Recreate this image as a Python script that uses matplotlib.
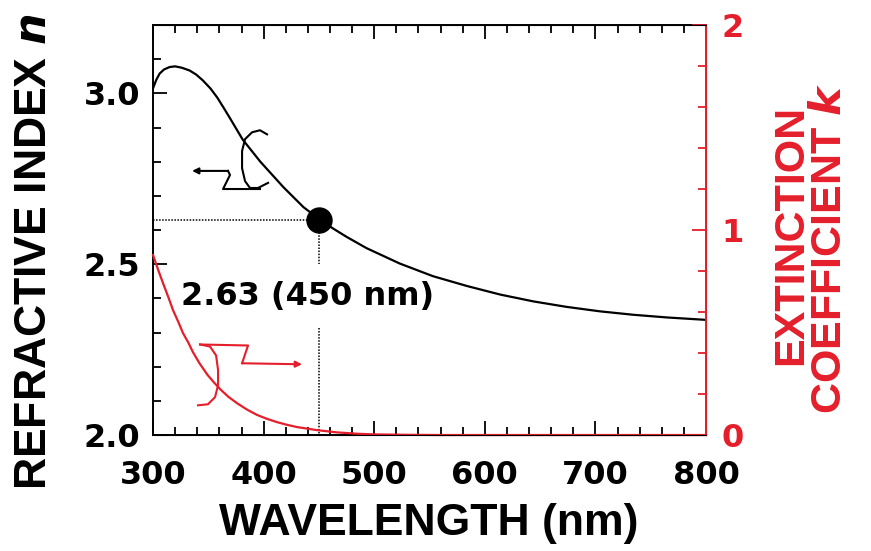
import matplotlib
matplotlib.use("Agg")
import matplotlib.pyplot as plt
import numpy as np

plt.rcParams['font.family'] = ['Liberation Sans', 'DejaVu Sans']
plt.rcParams['font.weight'] = 'bold'

# refractive index n (left axis)
wl_n = [300, 303, 306, 310, 315, 320, 326, 333, 339, 345, 352, 358, 364, 370,
        381, 397, 418, 436, 451, 463, 475, 493, 523, 553, 584, 614, 644, 674,
        704, 734, 765, 800]
n_vals = [3.015, 3.04, 3.058, 3.07, 3.077, 3.079, 3.075, 3.067, 3.055, 3.038,
          3.014, 2.988, 2.957, 2.925, 2.865, 2.80, 2.725, 2.667, 2.63, 2.604,
          2.580, 2.547, 2.502, 2.465, 2.436, 2.411, 2.391, 2.375, 2.362, 2.352,
          2.344, 2.337]

# extinction coefficient k (right axis)
wl_k = [300, 305, 309, 314, 318, 323, 327, 332, 336, 342, 349, 355, 361, 368,
        376, 385, 394, 403, 412, 421, 430, 448, 466, 485, 500, 530, 560, 800]
k_vals = [0.878, 0.80, 0.741, 0.67, 0.61, 0.55, 0.498, 0.45, 0.405, 0.35,
          0.295, 0.257, 0.222, 0.187, 0.155, 0.124, 0.098, 0.079, 0.063, 0.050,
          0.039, 0.024, 0.013, 0.006, 0.003, 0.001, 0.0, 0.0]

mark_wl = 450
mark_n = 2.63
mark_text = "2.63 (450 nm)"

# hand-drawn axis indicators (wavelength, n)
blk_arc_x = [403.1, 396.7, 389.5, 383.2, 380.5, 380.5, 383.2, 387.7, 394.9, 404.0]
blk_arc_y = [2.880, 2.892, 2.886, 2.866, 2.831, 2.781, 2.743, 2.723, 2.723, 2.738]
blk_lead_x = [396.7, 363.3, 369.6, 367.8, 335.3]
blk_lead_y = [2.720, 2.720, 2.761, 2.773, 2.773]
red_arc_x = [342.5, 351.5, 357.0, 358.8, 358.8, 356.1, 349.7, 340.7]
red_arc_y = [2.265, 2.259, 2.233, 2.190, 2.146, 2.111, 2.090, 2.087]
red_lead_x = [342.5, 385.9, 380.5, 434.7]
red_lead_y = [2.265, 2.262, 2.210, 2.207]

RED = '#e41f2b'
TICKFONT = 'DejaVu Sans'

fig = plt.figure(figsize=(8.71, 5.51), dpi=100)
ax = fig.add_axes([0.1757, 0.2105, 0.8106 - 0.1757, 0.9546 - 0.2105])
ax2 = ax.twinx()

ax.plot(wl_n, n_vals, color='black', lw=1.6, zorder=3)
ax2.plot(wl_k, k_vals, color=RED, lw=1.6, clip_on=False)

ax.plot([300, mark_wl], [mark_n, mark_n], color='black', lw=1.1, ls=(0, (1, 1)))
ax.plot([mark_wl, mark_wl], [mark_n, 2.50], color='black', lw=1.1, ls=(0, (1, 1)))
ax.plot([mark_wl, mark_wl], [2.313, 2.0], color='black', lw=1.1, ls=(0, (1, 1)))
ax.plot([mark_wl], [mark_n], 'o', color='black', ms=18, zorder=4)
ax.text(440, 2.405, mark_text, fontsize=23, fontweight='bold', family=TICKFONT,
        ha='center', va='center')

ax.plot(blk_arc_x, blk_arc_y, color='black', lw=1.5)
ax.plot(blk_lead_x[:-1], blk_lead_y[:-1], color='black', lw=1.5)
ax.annotate('', xy=(blk_lead_x[-1], blk_lead_y[-1]), xytext=(blk_lead_x[-2], blk_lead_y[-2]),
            arrowprops=dict(arrowstyle='-|>', color='black', lw=1.5, mutation_scale=9,
                            shrinkA=0, shrinkB=0))
ax.plot(red_arc_x, red_arc_y, color=RED, lw=1.5)
ax.plot(red_lead_x[:-1], red_lead_y[:-1], color=RED, lw=1.5)
ax.annotate('', xy=(red_lead_x[-1], red_lead_y[-1]), xytext=(red_lead_x[-2], red_lead_y[-2]),
            arrowprops=dict(arrowstyle='-|>', color=RED, lw=1.5, mutation_scale=9,
                            shrinkA=0, shrinkB=0))

ax.set_xlim(300, 800)
ax.set_ylim(2.0, 3.2)
ax2.set_ylim(0, 2)

ax.set_xticks(np.arange(300, 801, 100))
ax.set_xticks(np.arange(300, 801, 20), minor=True)
ax.set_yticks([2.0, 2.5, 3.0])
ax.set_yticks(np.arange(2.0, 3.21, 0.1), minor=True)
ax2.set_yticks([0, 1, 2])
ax2.set_yticks(np.arange(0, 2.01, 0.2), minor=True)

ax.tick_params(axis='x', which='both', direction='in', top=True, labelsize=23, pad=18)
ax.tick_params(axis='y', which='both', direction='in', right=False, labelsize=23, pad=9)
ax.tick_params(which='major', length=10, width=1.3)
ax.tick_params(which='minor', length=6, width=1.3)
ax2.tick_params(axis='y', which='both', direction='in', colors=RED, labelsize=23, pad=11)
ax2.tick_params(which='major', length=10, width=1.3)
ax2.tick_params(which='minor', length=6, width=1.3)
ax.yaxis.set_major_formatter(matplotlib.ticker.FormatStrFormatter('%.1f'))
for lbl in ax.get_xticklabels() + ax.get_yticklabels() + ax2.get_yticklabels():
    lbl.set_family(TICKFONT)
    lbl.set_fontweight('bold')

for s in ['left', 'bottom', 'top']:
    ax.spines[s].set_linewidth(1.4)
ax2.spines['right'].set_color(RED)
ax2.spines['right'].set_linewidth(1.4)
ax2.spines['left'].set_visible(False)

fig.text(429 / 871, 1 - 523 / 551, 'WAVELENGTH (nm)', fontsize=32, fontweight='bold',
         ha='center', va='center')
fig.text(35 / 871, 1 - 252 / 551, 'REFRACTIVE INDEX $\\boldsymbol{n}$', fontsize=32,
         fontweight='bold', ha='center', va='center', rotation=90)
fig.text(791 / 871, 1 - 235 / 551, 'EXTINCTION', fontsize=31, fontweight='bold',
         color=RED, ha='center', va='center', rotation=90)
fig.text(830 / 871, 1 - 248 / 551, 'COEFFICIENT $\\boldsymbol{k}$', fontsize=31,
         fontweight='bold', color=RED, ha='center', va='center', rotation=90)

fig.savefig('out.png', dpi=100)
